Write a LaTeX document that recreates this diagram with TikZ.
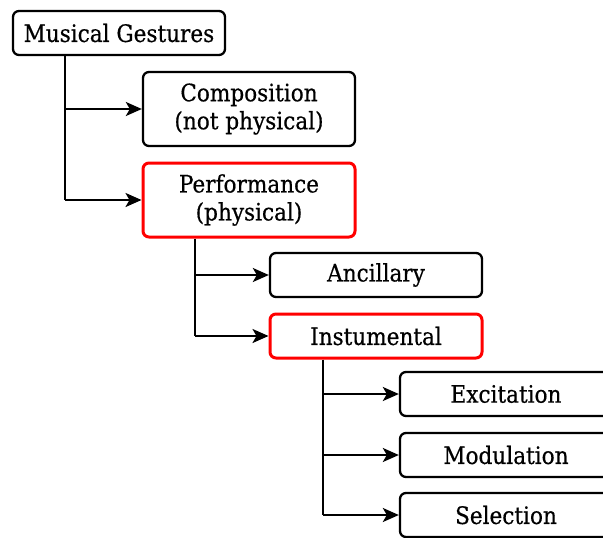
\documentclass[tikz,border=0pt]{standalone}
\usepackage{fontspec}
\setmainfont{DejaVu Serif Condensed}
\newfontfamily\boxfont{DejaVu Serif Condensed}[FakeBold=0.5]
\usetikzlibrary{arrows.meta}
\begin{document}
\begin{tikzpicture}[x=1pt,y=-1pt,
  box/.style={draw=black, line width=2.3pt, rounded corners=6pt, fill=white,
    minimum width=212pt, minimum height=44pt, align=center, inner sep=0pt,
    font=\boxfont\fontsize{24}{28}\selectfont},
  tall/.style={minimum height=74pt},
  hot/.style={draw=red, line width=3pt},
  link/.style={line width=2.3pt, -{Stealth[length=16pt,width=14pt,inset=4pt]}},
  trunk/.style={line width=2.3pt}]
\useasboundingbox (0,0) rectangle (603,538);
\node[box] (mg) at (119,33) {Musical Gestures};
\node[box, tall] (comp) at (249,109) {Composition\\(not physical)};
\node[box, tall, hot] (perf) at (249,200) {Performance\\(physical)};
\node[box] (anc) at (376,275) {Ancillary};
\node[box, hot] (ins) at (376,336) {Instumental};
\node[box] (exc) at (506,394) {Excitation};
\node[box] (mod) at (506,455) {Modulation};
\node[box] (sel) at (506,515) {Selection};
% branching connectors
\coordinate (t1) at (65,0);
\coordinate (t2) at (195,0);
\coordinate (t3) at (323,0);
\draw[trunk] (t1 |- mg.south) -- (t1 |- perf.west);
\draw[link] (t1 |- comp.west) -- (comp.west);
\draw[link] (t1 |- perf.west) -- (perf.west);
\draw[trunk] (t2 |- perf.south) -- (t2 |- ins.west);
\draw[link] (t2 |- anc.west) -- (anc.west);
\draw[link] (t2 |- ins.west) -- (ins.west);
\draw[trunk] (t3 |- ins.south) -- (t3 |- sel.west);
\draw[link] (t3 |- exc.west) -- (exc.west);
\draw[link] (t3 |- mod.west) -- (mod.west);
\draw[link] (t3 |- sel.west) -- (sel.west);
\end{tikzpicture}
\end{document}
